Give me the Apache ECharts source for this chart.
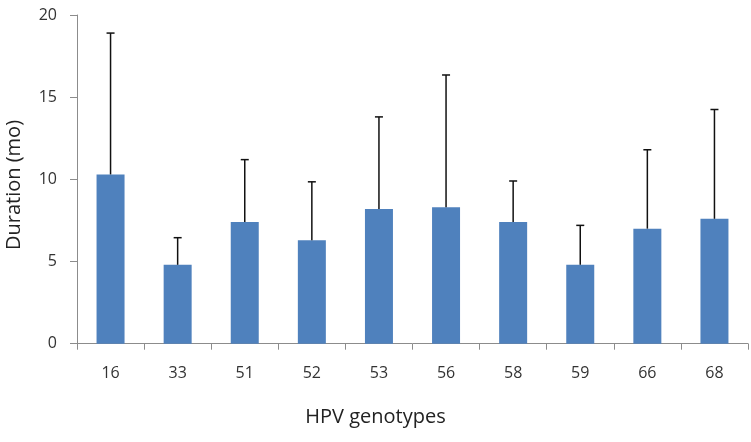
<!DOCTYPE html>
<html><head><meta charset="utf-8">
<script src="https://cdn.jsdelivr.net/npm/echarts@6/dist/echarts.min.js"></script>
<style>html,body{margin:0;padding:0;background:#fff}#c{width:751px;height:442px}</style>
</head><body><div id="c"></div>
<script>
const categories = ['16','33','51','52','53','56','58','59','66','68'];
const means = [10.3, 4.8, 7.4, 6.3, 8.2, 8.3, 7.4, 4.8, 7.0, 7.6];
const upper = [18.9, 6.45, 11.2, 9.85, 13.8, 16.35, 9.9, 7.2, 11.8, 14.25];
const yTicks = [0, 5, 10, 15, 20];
const xTitle = 'HPV genotypes';
const yTitle = 'Duration (mo)';

const chart = echarts.init(document.getElementById('c'));
const FONT = '"Open Sans", "Noto Sans", sans-serif';
chart.setOption({
  animation: false,
  grid: {left: 77, right: 3, top: 15, bottom: 98.3, containLabel: false},
  graphic: [
    {type: 'text', left: 'center', x: 0, style: {text: xTitle, font: '20px ' + FONT, fill: '#222', x: 375, y: 417, textAlign: 'center', textVerticalAlign: 'middle'}},
    {type: 'text', rotation: Math.PI / 2, x: 14, y: 185, style: {text: yTitle, font: '20px ' + FONT, fill: '#222', textAlign: 'center', textVerticalAlign: 'middle'}}
  ],
  xAxis: {
    type: 'category', data: categories,
    axisLine: {lineStyle: {color: '#8c8c8c', width: 1}},
    axisTick: {show: true, alignWithLabel: false, length: 6, lineStyle: {color: '#8c8c8c'}},
    axisLabel: {fontSize: 16, color: '#333', margin: 22, fontFamily: FONT}
  },
  yAxis: {
    type: 'value', min: yTicks[0], max: yTicks[yTicks.length-1], interval: 5,
    axisLine: {show: true, lineStyle: {color: '#8c8c8c', width: 1}},
    axisTick: {show: true, length: 7, lineStyle: {color: '#8c8c8c'}},
    splitLine: {show: false},
    axisLabel: {fontSize: 16, color: '#333', margin: 20, fontFamily: FONT}
  },
  series: [
    {type: 'bar', data: means, barWidth: 28, itemStyle: {color: '#4F81BD'}, z: 2},
    {
      type: 'custom', z: 3,
      data: means.map((m, i) => [i, m, upper[i]]),
      renderItem: function (params, api) {
        const p0 = api.coord([api.value(0), api.value(1)]);
        const p1 = api.coord([api.value(0), api.value(2)]);
        const cap = 4;
        return {type: 'group', children: [
          {type: 'line', shape: {x1: p0[0], y1: p0[1], x2: p1[0], y2: p1[1]}, style: {stroke: '#111', lineWidth: 1.5}},
          {type: 'line', shape: {x1: p1[0]-cap, y1: p1[1], x2: p1[0]+cap, y2: p1[1]}, style: {stroke: '#111', lineWidth: 1.5}}
        ]};
      }
    }
  ]
});
</script></body></html>
